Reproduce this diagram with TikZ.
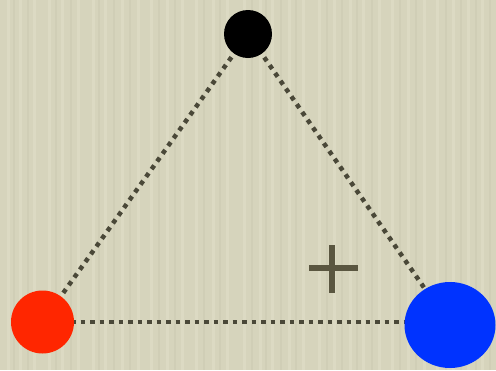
\documentclass[tikz,border=0pt]{standalone}
\usetikzlibrary{shapes.geometric}
\definecolor{bg}{RGB}{214,212,188}
\definecolor{bgl}{RGB}{224,222,200}
\definecolor{bgd}{RGB}{204,202,178}
\definecolor{dotc}{RGB}{74,72,56}
\definecolor{plusc}{RGB}{90,86,64}
\definecolor{redc}{RGB}{255,38,0}
\definecolor{bluec}{RGB}{0,51,255}
\tikzset{
  dotline/.style={draw=dotc, line width=4.5pt, dash pattern=on 4.5pt off 5pt},
  ball/.style={circle, inner sep=0pt, draw=none},
}
\begin{document}
\begin{tikzpicture}[x=1pt,y=-1pt]
\fill[bg] (0,0) rectangle (496,370);
\useasboundingbox (0,0) rectangle (496,370);
\foreach \x in {7,19,33,48,61,77,92,104,121,137,150,166,181,195,212,226,243,259,271,288,302,318,333,349,362,378,391,407,423,436,452,467,481}{
  \fill[bgl,opacity=0.6] (\x,0) rectangle (\x+3,370);
}
\foreach \x in {13,27,55,70,98,113,129,158,174,203,219,251,265,280,295,326,341,356,371,399,415,445,460,475,489}{
  \fill[bgd,opacity=0.5] (\x,0) rectangle (\x+2,370);
}
\coordinate (top) at (248,34);
\coordinate (left) at (42.5,322);
\coordinate (right) at (450,325);
\draw[dotline] (top) -- (left);
\draw[dotline] (top) -- (right);
\draw[dotline] (left) -- (left -| right);
\node[ball, fill=black, minimum size=48pt] (b) at (top) {};
\node[ball, fill=redc, minimum size=63pt] (r) at (left) {};
\node[ellipse, inner sep=0pt, fill=bluec, minimum width=91pt, minimum height=86pt] (u) at (right) {};
\draw[plusc, line width=5.5pt] (309,268) -- (358,268);
\draw[plusc, line width=5.5pt] (332,245) -- (332,293);
\end{tikzpicture}
\end{document}
